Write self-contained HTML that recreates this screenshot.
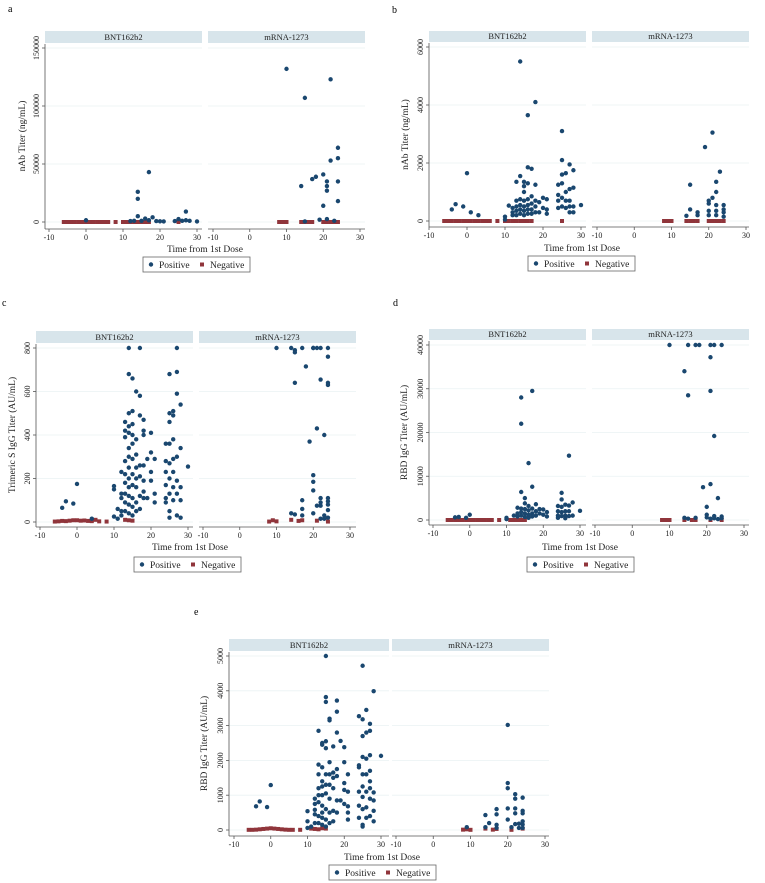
<!DOCTYPE html>
<html><head><meta charset="utf-8"><style>
html,body{margin:0;padding:0;background:#fff;}
svg{display:block;font-family:"Liberation Serif",serif;}
</style></head><body>
<svg id="fig" width="765" height="883" viewBox="0 0 765 883" xmlns="http://www.w3.org/2000/svg"></svg>
<script>
// ---------- DATA ----------
const xTicks = [-10, 0, 10, 20, 30];
const facets = ["BNT162b2", "mRNA-1273"];
const legendLabels = ["Positive", "Negative"];

// Panel a: nAb Titer (ng/mL)
const aTicks = [0, 50000, 100000, 150000];
const aBntPosDays = [0,14,14,14,17,18,13,15,16,17,19,20,21,24,25,26,27,27,28,30,12];
const aBntPosVals = [1500,26000,20000,5000,43000,4000,1000,1000,3000,1500,800,600,500,800,2500,1000,9000,1500,1000,500,800];
const aBntNegDays = [-6,-5,-4,-3,-2,-1,0,1,2,3,4,5,6,8,10,11,12,13,14,15,16,17,25];
const aBntNegVals = [0,0,0,0,0,0,0,0,0,0,0,0,0,0,0,0,0,0,0,0,0,0,0];
const aMrnaPosDays = [10,15,22,14,17,18,20,21,21,21,20,22,24,24,24,24,19,21,15,23];
const aMrnaPosVals = [132000,107000,123000,31000,37000,39000,41000,35000,31000,27000,14000,53000,64000,55000,35000,18000,2000,2500,500,1000];
const aMrnaNegDays = [8,9,10,14,15,16,17,20,21,22,23,24];
const aMrnaNegVals = [0,0,0,0,0,0,0,0,0,0,0,0];

// Panel b: nAb Titer (ng/mL)
const bTicks = [0, 2000, 4000, 6000];
const bBntPosDays = [-4,-3,-1,0,1,3,10,10,11,12,12,12,13,13,13,13,13,14,14,14,14,14,14,15,15,15,15,15,15,15,16,16,16,16,16,16,16,17,17,17,17,17,18,18,18,18,18,19,19,20,20,21,21,21,24,24,24,24,25,25,25,25,25,25,26,26,26,26,27,27,27,27,27,28,28,28,28,30];
const bBntPosVals = [400,580,500,1650,300,200,150,50,530,300,450,200,1350,700,500,350,200,5500,1550,750,550,400,250,1350,1200,1000,700,500,350,200,3650,1850,1300,750,550,400,250,1800,850,600,400,250,4100,1250,700,500,300,650,300,800,450,750,400,250,1250,900,700,450,3100,2100,1600,1300,800,500,1650,1000,700,450,1950,1100,700,500,300,1750,1150,500,300,550];
const bBntNegDays = [-6,-5,-4,-3,-2,-1,0,1,2,3,4,5,6,8,10,11,12,13,14,15,16,17,25];
const bBntNegVals = [0,0,0,0,0,0,0,0,0,0,0,0,0,0,0,0,0,0,0,0,0,0,0];
const bMrnaPosDays = [14,15,15,17,17,19,20,20,20,20,21,21,22,22,22,22,22,23,24,24,24,24];
const bMrnaPosVals = [180,1250,400,300,200,2550,700,600,350,200,3050,800,1350,1000,550,350,200,1700,550,400,300,150];
const bMrnaNegDays = [8,9,10,14,15,16,17,20,21,22,23,24];
const bMrnaNegVals = [0,0,0,0,0,0,0,0,0,0,0,0];

// Panel c: Trimeric S IgG Titer (AU/mL)
const cTicks = [0, 200, 400, 600, 800];
const cBntPosDays = [-4,-3,-1,0,4,10,10,10,11,11,12,12,12,12,12,13,13,13,13,13,13,13,13,13,14,14,14,14,14,14,14,14,14,14,14,14,14,15,15,15,15,15,15,15,15,15,15,15,16,16,16,16,16,16,16,16,17,17,17,17,17,17,17,18,18,18,18,18,18,18,19,19,20,20,20,20,21,21,21,24,24,24,24,24,24,25,25,25,25,25,25,25,25,26,26,26,26,26,26,26,27,27,27,27,27,27,27,28,28,28,28,28,30,25];
const cBntPosVals = [65,95,85,175,15,165,150,25,60,15,230,130,110,50,30,460,420,390,280,220,180,130,90,50,800,680,500,440,410,340,300,250,200,160,120,80,40,660,510,450,400,360,290,220,170,110,70,30,600,380,310,250,200,160,90,50,800,580,490,260,210,120,60,470,420,400,260,190,140,110,290,110,410,320,230,190,290,130,90,360,280,230,170,110,90,500,460,360,270,200,130,50,20,510,490,380,290,230,160,100,800,690,590,300,190,130,30,540,340,160,100,20,255,680];
const cBntNegDays = [-6,-5,-4,-3,-2,-1,0,1,2,3,4,5,6,8,13,14,15];
const cBntNegVals = [2,3,5,4,6,8,8,6,7,5,4,10,3,2,10,8,6];
const cMrnaPosDays = [10,14,15,15,15,17,18,20,20,21,22,22,24,24,24,24,21,23,19,20,20,20,20,17,17,17,14,15,22,22,22,22,23,23,24,24,24,24,24,21];
const cMrnaPosVals = [800,800,790,780,640,800,715,800,800,800,800,655,800,760,640,630,430,400,370,215,185,145,40,100,60,30,40,35,110,90,75,15,30,15,110,95,80,55,20,75];
const cMrnaNegDays = [8,9,10,14,16,17,21,24];
const cMrnaNegVals = [2,8,3,10,5,8,6,2];

// Panel d: RBD IgG Titer (AU/mL)
const dTicks = [0, 10000, 20000, 30000, 40000];
const dBntPosDays = [-4,-3,-1,0,10,10,12,13,13,13,14,14,14,14,14,14,15,15,15,15,15,16,16,16,16,16,17,17,17,17,17,18,18,18,19,19,20,20,21,21,24,24,24,24,25,25,25,25,25,26,26,26,26,27,27,27,27,28,28,30];
const dBntPosVals = [600,700,500,1200,500,200,1000,2800,1500,800,28000,22000,6400,2600,1800,1000,5000,3800,2500,1500,700,13000,3200,2200,1200,500,7600,2600,1500,800,29500,3600,2000,1000,2500,1500,2400,1200,1800,800,3200,2000,1000,500,6200,4700,3000,1800,900,3500,2000,1000,400,14700,3300,2000,900,4000,1000,2100];
const dBntNegDays = [-6,-5,-4,-3,-2,-1,0,1,2,3,4,5,6,8,11,12,13,14,15];
const dBntNegVals = [0,0,0,0,0,0,0,0,0,0,0,0,0,0,0,0,0,0,0];
const dMrnaPosDays = [10,15,17,18,21,22,24,21,14,15,21,22,21,19,23,20,20,20,14,15,17,22,22,23,24,24,21];
const dMrnaPosVals = [40000,40000,40000,40000,40000,40000,40000,37200,34000,28500,29500,19200,8200,7500,5000,3000,1200,600,500,300,500,900,400,200,800,400,300];
const dMrnaNegDays = [8,9,10,14,16,17,21,24];
const dMrnaNegVals = [0,0,0,0,0,0,0,0];

// Panel e: RBD IgG Titer (AU/mL)
const eTicks = [0, 1000, 2000, 3000, 4000, 5000];
const eBntPosDays = [-4,-3,-1,0,10,10,10,11,12,12,12,12,12,13,13,13,13,13,13,13,13,14,14,14,14,14,14,14,14,14,14,15,15,15,15,15,15,15,15,15,15,15,16,16,16,16,16,16,16,16,17,17,17,17,17,17,18,18,18,18,18,18,18,19,19,20,20,20,20,20,21,21,21,21,21,24,24,24,24,24,24,25,25,25,25,25,25,25,25,25,25,26,26,26,26,26,26,26,27,27,27,27,27,27,27,27,28,28,28,28,28,30];
const eBntPosVals = [680,820,660,1290,540,250,60,100,900,750,580,450,200,2850,1880,1600,1200,1000,800,400,200,2500,2450,1800,1400,1250,1000,700,500,350,150,5000,3820,3680,2550,2350,1600,1300,1050,600,300,100,3200,3150,1950,1600,1300,900,500,200,2400,1650,1500,1200,550,250,3720,3400,2800,1750,1550,850,500,2560,850,2380,1950,1350,1150,750,1600,1100,680,500,300,3270,1860,1800,1100,700,350,4720,3180,2700,2100,1600,1250,950,600,150,100,3450,2800,2050,1600,1100,650,350,3050,2850,2150,1700,1400,1200,900,400,3990,1080,850,550,250,2130];
const eBntNegDays = [-6,-5,-4,-3,-2,-1,0,1,2,3,4,5,6,8,11,12,13,14,15];
const eBntNegVals = [5,5,10,20,30,40,50,40,30,20,10,5,5,5,40,30,20,50,40];
const eMrnaPosDays = [9,14,14,15,17,17,17,17,20,20,20,20,20,21,22,22,22,22,22,23,23,24,24,24,24,24,24];
const eMrnaPosVals = [80,430,80,200,600,450,150,60,3020,1350,1200,620,300,80,1030,900,620,480,170,180,60,930,550,480,250,160,60];
const eMrnaNegDays = [8,9,10,14,16,17,21,24];
const eMrnaNegVals = [10,20,5,40,10,30,5,40];

// ---------- RENDERING ----------
const NS = "http://www.w3.org/2000/svg";
const svg = document.getElementById("fig");
function mk(tag, attrs, parent) {
  const e = document.createElementNS(NS, tag);
  for (const k in attrs) e.setAttribute(k, attrs[k]);
  (parent || svg).appendChild(e);
  return e;
}
const BLUE = "#1a476f", RED = "#90353b", STRIP = "#d8e5eb", AXIS = "#555", GRID = "#eaf2f3";

function fmt(v) { return String(v); }

function drawPanel(p) {
  const g = mk("g", {});
  
  
  const lab = mk("text", {x: p.labX, y: p.labY, "font-size": 10}, g);
  lab.textContent = p.id;
  
  

  const ymax = p.ticks[p.ticks.length - 1];
  const yS = v => p.y0 - (v / ymax) * (p.y0 - p.yTop);
  const fac = [p.left, p.right];
  // gridlines
  p.ticks.forEach(t => {
    fac.forEach(f => {
      const gl = mk("line", {x1: f.s0, x2: f.s1, y1: yS(t), y2: yS(t), stroke: GRID, "stroke-width": 0.8}, g);
      
      
    });
  });
  fac.forEach((f, fi) => {
    const xS = d => f.xm10 + (d + 10) / 40 * (f.x30 - f.xm10);
    const st = mk("rect", {x: f.s0, y: p.stripTop, width: f.s1 - f.s0, height: p.stripBot - p.stripTop, fill: STRIP}, g);
    
    
    const stt = mk("text", {x: (f.s0 + f.s1) / 2, y: p.stripBot - 3, "font-size": 8.5, "text-anchor": "middle", fill: "#222"}, g);
    stt.textContent = facets[fi];
    
    
    // x axis
    const xa = mk("line", {x1: f.s0, x2: f.s1, y1: p.axisY, y2: p.axisY, stroke: AXIS, "stroke-width": 0.8}, g);
    
    
    xTicks.forEach(t => {
      const x = xS(t);
      const tk = mk("line", {x1: x, x2: x, y1: p.axisY, y2: p.axisY + 3, stroke: AXIS, "stroke-width": 0.8}, g);
      
      
      const tl = mk("text", {x: x, y: p.axisY + 11, "font-size": 8, "text-anchor": "middle", fill: "#222"}, g);
      tl.textContent = fmt(t);
      
      
    });
    // points
    const s = f.series;
    s.negD.forEach((d, i) => {
      const r = mk("rect", {x: xS(d) - 2, y: yS(s.negV[i]) - 2, width: 4, height: 4, fill: RED}, g);
      
      
    });
    s.posD.forEach((d, i) => {
      const c = mk("circle", {cx: xS(d), cy: yS(s.posV[i]), r: 2.2, fill: BLUE}, g);
      
      
    });
  });
  // y axis
  const ya = mk("line", {x1: p.left.s0, x2: p.left.s0, y1: p.stripBot + 1, y2: p.axisY, stroke: AXIS, "stroke-width": 0.8}, g);
  
  
  p.ticks.forEach(t => {
    const y = yS(t);
    const tk = mk("line", {x1: p.left.s0 - 3, x2: p.left.s0, y1: y, y2: y, stroke: AXIS, "stroke-width": 0.8}, g);
    
    
    const tx = p.left.s0 - 6;
    const tl = mk("text", {x: tx, y: y, "font-size": 8, "text-anchor": "middle", fill: "#222", transform: `rotate(-90 ${tx} ${y})`}, g);
    tl.textContent = fmt(t);
    
    
  });
  const yl = mk("text", {x: p.ylX, y: (p.stripBot + p.axisY) / 2, "font-size": 9.5, "text-anchor": "middle", fill: "#222", transform: `rotate(-90 ${p.ylX} ${(p.stripBot + p.axisY) / 2})`}, g);
  yl.textContent = p.ylabel;
  
  
  const xl = mk("text", {x: p.xlX, y: p.xlY, "font-size": 9.5, "text-anchor": "middle", fill: "#222"}, g);
  xl.textContent = "Time from 1st Dose";
  
  
  // legend
  const lg = mk("g", {}, g);
  
  
  mk("rect", {x: p.lgX, y: p.lgY, width: 107, height: 15, fill: "#fff", stroke: "#666", "stroke-width": 0.8}, lg);
  const le1 = mk("circle", {cx: p.lgX + 8, cy: p.lgY + 7.5, r: 2.2, fill: BLUE}, lg);
  
  
  const lt1 = mk("text", {x: p.lgX + 16, y: p.lgY + 11, "font-size": 9.5, fill: "#222"}, lg);
  lt1.textContent = legendLabels[0];
  
  
  const le2 = mk("rect", {x: p.lgX + 57, y: p.lgY + 5.5, width: 4, height: 4, fill: RED}, lg);
  
  
  const lt2 = mk("text", {x: p.lgX + 67, y: p.lgY + 11, "font-size": 9.5, fill: "#222"}, lg);
  lt2.textContent = legendLabels[1];
  
  
}

drawPanel({id: "a", labX: 8, labY: 12, ticks: aTicks, yTop: 48, y0: 222, stripTop: 31, stripBot: 43, axisY: 229,
  left: {s0: 45, s1: 202, xm10: 49, x30: 197, series: {posD: aBntPosDays, posV: aBntPosVals, negD: aBntNegDays, negV: aBntNegVals}},
  right: {s0: 208, s1: 365, xm10: 213, x30: 360, series: {posD: aMrnaPosDays, posV: aMrnaPosVals, negD: aMrnaNegDays, negV: aMrnaNegVals}},
  ylabel: "nAb Titer (ng/mL)", ylX: 25, xlX: 205, xlY: 252, lgX: 143, lgY: 257});
drawPanel({id: "b", labX: 392, labY: 13, ticks: bTicks, yTop: 47, y0: 221, stripTop: 31, stripBot: 42, axisY: 227,
  left: {s0: 429, s1: 586, xm10: 429, x30: 581, series: {posD: bBntPosDays, posV: bBntPosVals, negD: bBntNegDays, negV: bBntNegVals}},
  right: {s0: 592, s1: 749, xm10: 597, x30: 746, series: {posD: bMrnaPosDays, posV: bMrnaPosVals, negD: bMrnaNegDays, negV: bMrnaNegVals}},
  ylabel: "nAb Titer (ng/mL)", ylX: 408, xlX: 582, xlY: 251, lgX: 528, lgY: 256});
drawPanel({id: "c", labX: 2, labY: 306, ticks: cTicks, yTop: 348, y0: 522, stripTop: 331, stripBot: 343, axisY: 527,
  left: {s0: 36, s1: 193, xm10: 40, x30: 188, series: {posD: cBntPosDays, posV: cBntPosVals, negD: cBntNegDays, negV: cBntNegVals}},
  right: {s0: 199, s1: 356, xm10: 203, x30: 350, series: {posD: cMrnaPosDays, posV: cMrnaPosVals, negD: cMrnaNegDays, negV: cMrnaNegVals}},
  ylabel: "Trimeric S IgG Titer (AU/mL)", ylX: 15, xlX: 190, xlY: 550, lgX: 134, lgY: 557});
drawPanel({id: "d", labX: 393, labY: 306, ticks: dTicks, yTop: 345, y0: 520, stripTop: 329, stripBot: 340, axisY: 525,
  left: {s0: 429, s1: 586, xm10: 433, x30: 580, series: {posD: dBntPosDays, posV: dBntPosVals, negD: dBntNegDays, negV: dBntNegVals}},
  right: {s0: 592, s1: 749, xm10: 595, x30: 744, series: {posD: dMrnaPosDays, posV: dMrnaPosVals, negD: dMrnaNegDays, negV: dMrnaNegVals}},
  ylabel: "RBD IgG Titer (AU/mL)", ylX: 407, xlX: 580, xlY: 550, lgX: 527, lgY: 557});
drawPanel({id: "e", labX: 194, labY: 615, ticks: eTicks, yTop: 656, y0: 830, stripTop: 639, stripBot: 651, axisY: 836,
  left: {s0: 229, s1: 389, xm10: 234, x30: 381, series: {posD: eBntPosDays, posV: eBntPosVals, negD: eBntNegDays, negV: eBntNegVals}},
  right: {s0: 392, s1: 549, xm10: 396, x30: 545, series: {posD: eMrnaPosDays, posV: eMrnaPosVals, negD: eMrnaNegDays, negV: eMrnaNegVals}},
  ylabel: "RBD IgG Titer (AU/mL)", ylX: 207, xlX: 382, xlY: 860, lgX: 329, lgY: 865});
</script>
</body></html>
